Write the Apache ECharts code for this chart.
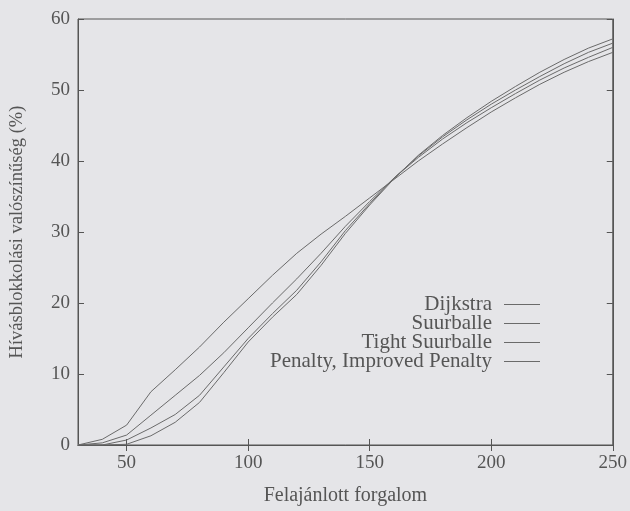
<!DOCTYPE html>
<html>
<head>
<meta charset="utf-8">
<script src="https://cdn.jsdelivr.net/npm/echarts@6/dist/echarts.min.js"></script>
<style>
  html, body { margin: 0; padding: 0; background: #e5e5e8; }
  #chart { width: 630px; height: 511px; }
</style>
</head>
<body>
<div id="chart"></div>
<script>
// forgalom (x)
const traffic = [30, 40, 50, 60, 70, 80, 90, 100, 110, 120, 130, 140, 150, 160, 170, 180, 190, 200, 210, 220, 230, 240, 250];

const dijkstra = [0, 0.8, 2.8, 7.5, 10.6, 13.8, 17.3, 20.6, 23.9, 27.0, 29.7, 32.2, 34.8, 37.4, 40.0, 42.4, 44.7, 46.9, 48.9, 50.8, 52.5, 54.0, 55.3];
const suurballe = [0, 0.3, 1.4, 4.2, 7.0, 9.8, 13.0, 16.5, 20.0, 23.4, 27.0, 30.8, 34.3, 37.6, 40.5, 43.1, 45.4, 47.5, 49.5, 51.4, 53.1, 54.6, 56.0];
const tightSuurballe = [0, 0, 0.7, 2.4, 4.3, 7.0, 11.0, 15.0, 18.5, 21.8, 25.8, 30.2, 34.0, 37.6, 40.7, 43.4, 45.8, 48.0, 50.0, 51.9, 53.7, 55.3, 56.6];
const penalty = [0, 0, 0.1, 1.3, 3.2, 6.0, 10.2, 14.5, 18.0, 21.2, 25.3, 29.8, 33.8, 37.5, 40.8, 43.6, 46.1, 48.4, 50.5, 52.5, 54.3, 55.9, 57.2];

const xTicks = [50, 100, 150, 200, 250];
const seriesNames = ["Dijkstra", "Suurballe", "Tight Suurballe", "Penalty, Improved Penalty"];

const font = "'Liberation Serif', 'DejaVu Serif', serif";
const ink = "#555";
const lineColor = "#6a6a6a";

const pairs = (ys) => traffic.map((x, i) => [x, ys[i]]);

const mkSeries = (name, ys) => ({
  name,
  type: "line",
  data: pairs(ys),
  symbol: "none",
  smooth: false,
  lineStyle: { color: lineColor, width: 1 },
  itemStyle: { color: lineColor },
  xAxisIndex: 0,
  yAxisIndex: 0,
});

const chart = echarts.init(document.getElementById("chart"));

chart.setOption({
  backgroundColor: "#e5e5e8",
  animation: false,
  textStyle: { fontFamily: font },
  grid: { left: 78, right: 16, top: 19, bottom: 64, show: true, borderColor: ink, borderWidth: 1 },
  legend: {
    orient: "vertical",
    right: 85,
    top: 289,
    align: "right",
    itemGap: -2,
    itemWidth: 36,
    itemHeight: 1,
    icon: "rect",
    textStyle: { fontFamily: font, fontSize: 21, lineHeight: 19, color: ink, padding: [0, 7, 0, 0] },
    data: seriesNames,
  },
  xAxis: [
    {
      type: "value",
      min: 30,
      max: 250,
      name: "Felajánlott forgalom",
      nameLocation: "middle",
      nameGap: 41,
      nameTextStyle: { fontFamily: font, fontSize: 20, color: ink },
      axisLine: { lineStyle: { color: ink } },
      axisTick: { inside: true, length: 6, customValues: xTicks, lineStyle: { color: ink } },
      axisLabel: { customValues: xTicks, margin: 9, fontFamily: font, fontSize: 19, color: ink },
      splitLine: { show: false },
    },
    {
      type: "value",
      position: "top",
      min: 30,
      max: 250,
      axisLine: { lineStyle: { color: ink } },
      axisTick: { inside: true, length: 6, customValues: xTicks, lineStyle: { color: ink } },
      axisLabel: { show: false },
      splitLine: { show: false },
    },
  ],
  yAxis: [
    {
      type: "value",
      min: 0,
      max: 60,
      interval: 10,
      name: "Hívásblokkolási valószínűség (%)",
      nameLocation: "middle",
      nameGap: 51,
      nameTextStyle: { fontFamily: font, fontSize: 18.5, color: ink },
      axisLine: { show: true, lineStyle: { color: ink } },
      axisTick: { show: true, inside: true, length: 6, lineStyle: { color: ink } },
      axisLabel: { margin: 8, fontFamily: font, fontSize: 19, color: ink },
      splitLine: { show: false },
    },
    {
      type: "value",
      position: "right",
      min: 0,
      max: 60,
      interval: 10,
      axisLine: { show: true, lineStyle: { color: ink } },
      axisTick: { show: true, inside: true, length: 6, lineStyle: { color: ink } },
      axisLabel: { show: false },
      splitLine: { show: false },
    },
  ],
  series: [
    mkSeries(seriesNames[0], dijkstra),
    mkSeries(seriesNames[1], suurballe),
    mkSeries(seriesNames[2], tightSuurballe),
    mkSeries(seriesNames[3], penalty),
  ],
});
</script>
</body>
</html>
